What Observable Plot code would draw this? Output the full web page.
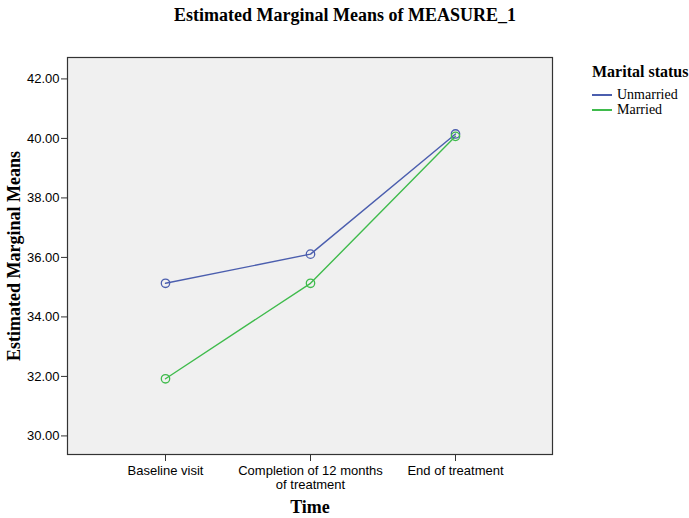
<!DOCTYPE html>
<html>
<head>
<meta charset="utf-8">
<script src="https://cdn.jsdelivr.net/npm/d3@7"></script>
<script src="https://cdn.jsdelivr.net/npm/@observablehq/plot@0.6"></script>
<style>
  html, body { margin: 0; padding: 0; background: #fff; }
  #wrap { position: relative; width: 689px; height: 518px; }
  #legend { position: absolute; left: 592px; top: 63px; font-family: "Liberation Serif", "Times New Roman", serif; color: #000; white-space: nowrap; }
  #legend .title { font-weight: bold; font-size: 16px; line-height: 18px; margin-bottom: 6px; }
  #legend .row { display: flex; align-items: center; font-size: 14px; line-height: 15px; height: 15px; }
  #legend .sw { width: 20px; height: 2px; margin-right: 5px; }
</style>
</head>
<body>
<div id="wrap"><div id="chart"></div><div id="legend"></div></div>
<script>
const categories = ["Baseline visit", "Completion of 12 months\nof treatment", "End of treatment"];
const seriesNames = ["Unmarried", "Married"];
const unmarried = [35.13, 36.11, 40.15];
const married = [31.92, 35.13, 40.07];
const colors = ["#4b5eae", "#3fbb4c"];
const yTicks = [30, 32, 34, 36, 38, 40, 42];

const data = [];
categories.forEach((c, i) => {
  data.push({time: c, value: unmarried[i], series: seriesNames[0]});
  data.push({time: c, value: married[i], series: seriesNames[1]});
});

const serif = "'Liberation Serif', 'Times New Roman', serif";

const chart = Plot.plot({
  width: 689,
  height: 518,
  marginLeft: 67,
  marginRight: 137,
  marginTop: 57,
  marginBottom: 64,
  style: {fontFamily: "'Liberation Sans', Arial, sans-serif", fontSize: "13px", color: "#000", background: "transparent", overflow: "visible"},
  x: {type: "point", domain: categories, padding: 0.67, label: null},
  y: {domain: [29.375, 42.72], label: null},
  color: {domain: seriesNames, range: colors},
  marks: [
    Plot.frame({fill: "#f0f0f0", stroke: null}),
    Plot.axisY({ticks: yTicks, tickFormat: d => d.toFixed(2), tickSize: 6, tickPadding: 2, label: null, stroke: "#333", fontSize: 13}),
    Plot.axisX({tickSize: 7, tickPadding: 4, label: null, stroke: "#333", lineHeight: 1.05, fontSize: 13}),
    Plot.line(data, {x: "time", y: "value", z: "series", stroke: "series", strokeWidth: 1.4}),
    Plot.dot(data, {x: "time", y: "value", stroke: "series", r: 4.2, strokeWidth: 1.3}),
    Plot.frame({stroke: "#333", strokeWidth: 1.2}),
    Plot.text(["Estimated Marginal Means of MEASURE_1"], {frameAnchor: "top", dx: 35, dy: -49, fontFamily: serif, fontWeight: "bold", fontSize: 18, fill: "#000"}),
    Plot.text(["Estimated Marginal Means"], {frameAnchor: "left", textAnchor: "middle", dx: -53, rotate: -90, fontFamily: serif, fontWeight: "bold", fontSize: 18, fill: "#000"}),
    Plot.text(["Time"], {frameAnchor: "bottom", dy: 58, fontFamily: serif, fontWeight: "bold", fontSize: 18, fill: "#000"})
  ]
});
document.getElementById("chart").appendChild(chart);

const legend = document.getElementById("legend");
legend.innerHTML = `<div class="title">Marital status</div>` +
  seriesNames.map((s, i) => `<div class="row"><span class="sw" style="background:${colors[i]}"></span>${s}</div>`).join("");
</script>
</body>
</html>
